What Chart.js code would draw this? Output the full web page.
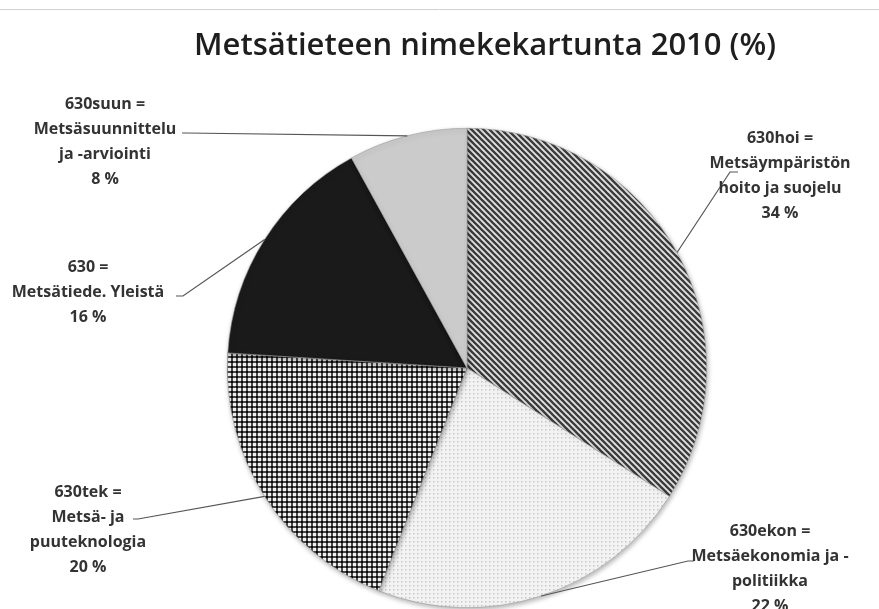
<!DOCTYPE html>
<html>
<head>
<meta charset="utf-8">
<script src="https://cdn.jsdelivr.net/npm/chart.js@4.4.0/dist/chart.umd.min.js"></script>
<style>
  html, body { margin: 0; padding: 0; background: #fff; }
  #wrap { width: 879px; height: 609px; position: relative; }
</style>
</head>
<body>
<div id="wrap"><canvas id="pie" width="879" height="609"></canvas></div>
<script>
// chart data
const chartTitle = 'Metsätieteen nimekekartunta 2010 (%)';
const categories = ['630hoi', '630ekon', '630tek', '630', '630suun'];
const shares = [34, 22, 20, 16, 8];
const labelLines = [
  ['630hoi =', 'Metsäympäristön', 'hoito ja suojelu'],
  ['630ekon =', 'Metsäekonomia ja -', 'politiikka'],
  ['630tek =', 'Metsä- ja', 'puuteknologia'],
  ['630 =', 'Metsätiede. Yleistä'],
  ['630suun =', 'Metsäsuunnittelu', 'ja -arviointi']
];

// where each label sits and where its leader line ends (layout only)
const labelPos = [
  { x: 780, y: 138, ex: 730, ey: 172, hx: 738 },
  { x: 770, y: 531, ex: 688, ey: 561, hx: 694 },
  { x: 88,  y: 492, ex: 138, ey: 519, hx: 133 },
  { x: 88,  y: 267, ex: 183, ey: 296, hx: 176 },
  { x: 105, y: 104, ex: 186, ey: 133, hx: 182 }
];

function makePattern(size, draw) {
  const c = document.createElement('canvas');
  c.width = size; c.height = size;
  const g = c.getContext('2d');
  draw(g, size);
  return g.createPattern(c, 'repeat');
}

const hatch = makePattern(6, (g, s) => {
  g.fillStyle = '#e2e2e2';
  g.fillRect(0, 0, s, s);
  g.strokeStyle = '#3c3c3c';
  g.lineWidth = 2.3;
  g.beginPath();
  g.moveTo(-1, -1); g.lineTo(s + 1, s + 1);
  g.moveTo(-1, s - 1); g.lineTo(1, s + 1);
  g.moveTo(s - 1, -1); g.lineTo(s + 1, 1);
  g.stroke();
});
const dots = makePattern(4, (g, s) => {
  g.fillStyle = '#f3f3f3';
  g.fillRect(0, 0, s, s);
  g.fillStyle = '#c8c8c8';
  g.fillRect(1, 1, 1.5, 1.5);
});
const plaid = makePattern(5, (g, s) => {
  g.fillStyle = '#f0f0f0';
  g.fillRect(0, 0, s, s);
  g.fillStyle = 'rgba(30,30,30,0.8)';
  g.fillRect(0, 1, s, 2);
  g.fillRect(1, 0, 2, s);
  g.fillStyle = '#0a0a0a';
  g.fillRect(1, 1, 2, 2);
});

const fills = [hatch, dots, plaid, '#1a1a1a', '#cbcbcb'];

const shadowPlugin = {
  id: 'pieShadow',
  beforeDatasetsDraw(chart) {
    const ctx = chart.ctx;
    ctx.save();
    ctx.shadowColor = 'rgba(0,0,0,0.3)';
    ctx.shadowBlur = 5;
    ctx.shadowOffsetX = 1;
    ctx.shadowOffsetY = 2;
  },
  afterDatasetsDraw(chart) {
    chart.ctx.restore();
  }
};

const labelsPlugin = {
  id: 'pieLabels',
  afterDraw(chart) {
    const ctx = chart.ctx;
    ctx.save();
    // thin rule at top
    ctx.strokeStyle = '#d0d0d0';
    ctx.lineWidth = 1;
    ctx.beginPath();
    ctx.moveTo(0, 9.5); ctx.lineTo(879, 9.5);
    ctx.stroke();

    // title
    ctx.fillStyle = '#1e1e1e';
    ctx.font = '600 31px "Open Sans", sans-serif';
    ctx.textAlign = 'center';
    ctx.textBaseline = 'middle';
    ctx.fillText(chartTitle, 485, 46);

    const arcs = chart.getDatasetMeta(0).data;
    const total = shares.reduce((a, b) => a + b, 0);
    arcs.forEach((arc, i) => {
      const p = arc.getProps(['x', 'y', 'startAngle', 'endAngle', 'outerRadius'], true);
      const mid = (p.startAngle + p.endAngle) / 2;
      const sx = p.x + Math.cos(mid) * p.outerRadius;
      const sy = p.y + Math.sin(mid) * p.outerRadius;
      const lp = labelPos[i];
      ctx.strokeStyle = '#555';
      ctx.lineWidth = 1.2;
      ctx.beginPath();
      ctx.moveTo(sx, sy);
      ctx.lineTo(lp.ex, lp.ey);
      ctx.lineTo(lp.hx, lp.ey);
      ctx.stroke();

      ctx.fillStyle = '#333';
      ctx.font = 'bold 16px "Open Sans", sans-serif';
      const lines = labelLines[i].concat([Math.round(shares[i] / total * 100) + ' %']);
      lines.forEach((t, k) => ctx.fillText(t, lp.x, lp.y + k * 25));
    });
    ctx.restore();
  }
};

new Chart(document.getElementById('pie'), {
  type: 'pie',
  data: {
    labels: categories,
    datasets: [{
      data: shares,
      backgroundColor: fills,
      borderColor: '#9a9a9a',
      borderWidth: 0.6
    }]
  },
  options: {
    responsive: false,
    animation: false,
    devicePixelRatio: 1,
    layout: { padding: { top: 128, bottom: 1, left: 100, right: 45 } },
    plugins: {
      legend: { display: false },
      title: { display: false },
      tooltip: { enabled: false }
    }
  },
  plugins: [shadowPlugin, labelsPlugin]
});
</script>
</body>
</html>
